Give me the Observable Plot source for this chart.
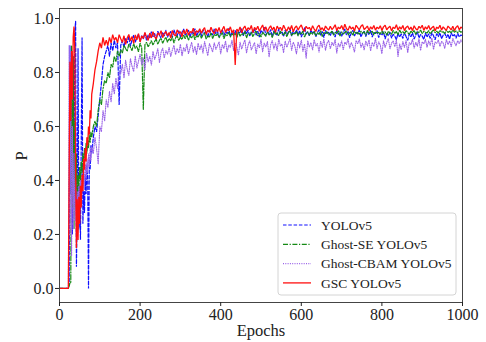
<!DOCTYPE html>
<html><head><meta charset="utf-8">
<script src="https://cdn.jsdelivr.net/npm/d3@7"></script>
<script src="https://cdn.jsdelivr.net/npm/@observablehq/plot@0.6"></script>
<style>
body{margin:0;background:#fff}
svg, svg text{font-family:'Liberation Serif' !important}
</style>
</head><body><div id="chart"></div>
<script>
const epochs = [0,5,10,15,20,22,24,26,28,30,32,34,36,38,40,42,44,46,48,50,52,54,56,58,60,62,64,66,68,70,72,74,76,78,80,84,88,92,96,100,104,108,112,116,120,124,128,132,136,140,144,148,
152,156,160,164,168,172,176,180,184,188,
192,196,200,204,208,212,216,220,224,228,
232,236,240,244,248,252,256,260,264,268,
272,276,280,284,288,292,296,300,304,308,
312,316,320,324,328,332,336,340,344,348,
352,356,360,364,368,372,376,380,384,388,
392,396,400,404,408,412,416,420,424,428,
432,436,440,444,448,452,456,460,464,468,
472,476,480,484,488,492,496,500,504,508,
512,516,520,524,528,532,536,540,544,548,
552,556,560,564,568,572,576,580,584,588,
592,596,600,604,608,612,616,620,624,628,
632,636,640,644,648,652,656,660,664,668,
672,676,680,684,688,692,696,700,704,708,
712,716,720,724,728,732,736,740,744,748,
752,756,760,764,768,772,776,780,784,788,
792,796,800,804,808,812,816,820,824,828,
832,836,840,844,848,852,856,860,864,868,
872,876,880,884,888,892,896,900,904,908,
912,916,920,924,928,932,936,940,944,948,
952,956,960,964,968,972,976,980,984,988,
992,996,1000];

const yolov5P = [0,0,0,0,0,0,0.02,0.9,0.35,0.72,0.2,0.86,0.42,0.95,0.99,0.08,0.3,0.89,0.22,0.38,0.18,0.55,0.93,0.24,0.36,0.28,0.42,0.35,0.46,0.4,0.0,0.48,0.44,0.53,0.5,0.56,0.6,0.58,0.64,0.7,0.76,0.83,0.86,0.88,0.9,0.86,0.91,0.88,0.92,0.89,0.91,0.68,
0.901,0.918,0.893,0.926,0.909,0.934,0.897,0.921,0.938,0.912,
0.929,0.942,0.915,0.936,0.924,0.947,0.919,0.939,0.928,0.951,
0.932,0.945,0.921,0.953,0.938,0.927,0.949,0.935,0.956,0.931,
0.944,0.952,0.929,0.958,0.941,0.936,0.955,0.932,0.949,0.961,
0.938,0.946,0.957,0.931,0.952,0.943,0.962,0.935,0.948,0.954,
0.933,0.958,0.944,0.951,0.929,0.956,0.947,0.938,0.961,0.942,
0.953,0.931,0.948,0.959,0.937,0.952,0.944,0.963,0.934,0.949,
0.941,0.956,0.932,0.951,0.946,0.962,0.936,0.955,0.943,0.958,
0.934,0.951,0.947,0.964,0.938,0.953,0.931,0.957,0.945,0.968,
0.937,0.952,0.943,0.959,0.931,0.955,0.946,0.938,0.961,0.944,
0.952,0.933,0.957,0.941,0.949,0.962,0.935,0.953,0.944,0.958,
0.939,0.955,0.931,0.948,0.966,0.942,0.951,0.936,0.957,0.945,
0.953,0.932,0.947,0.959,0.938,0.952,0.929,0.956,0.943,0.949,
0.936,0.954,0.945,0.931,0.957,0.941,0.951,0.934,0.948,0.961,
0.939,0.952,0.928,0.947,0.956,0.935,0.949,0.942,0.958,0.931,
0.946,0.953,0.933,0.951,0.939,0.957,0.931,0.948,0.944,0.955,
0.929,0.947,0.938,0.951,0.924,0.945,0.936,0.949,0.927,0.942,
0.935,0.921,0.946,0.931,0.943,0.926,0.948,0.933,0.919,0.944,
0.932,0.947,0.924,0.939,0.951,0.928,0.941,0.935,0.922,0.946,
0.931,0.943,0.926,0.948,0.936,0.921,0.944,0.933,0.947,0.925,
0.938,0.946,0.929,0.942,0.923,0.947,0.934,0.941,0.927,0.945,
0.932,0.939,0.936];

const ghostSEP = [0,0,0,0,0,0,0.01,0.02,0.02,0.9,0.3,0.86,0.22,0.62,0.3,0.5,0.34,0.42,0.36,0.45,0.4,0.47,0.43,0.5,0.46,0.52,0.48,0.54,0.5,0.55,0.52,0.57,0.54,0.58,0.56,0.6,0.62,0.6,0.66,0.7,0.68,0.74,0.77,0.76,0.8,0.78,0.83,0.82,0.86,0.84,0.88,0.86,
0.884,0.872,0.901,0.889,0.878,0.905,0.893,0.881,0.907,0.889,
0.898,0.876,0.909,0.891,0.662,0.903,0.912,0.895,0.906,0.918,
0.901,0.915,0.923,0.904,0.919,0.927,0.908,0.921,0.931,0.912,
0.926,0.917,0.933,0.909,0.928,0.936,0.918,0.931,0.922,0.938,
0.925,0.941,0.919,0.934,0.928,0.943,0.921,0.937,0.931,0.945,
0.927,0.939,0.946,0.924,0.936,0.931,0.947,0.926,0.941,0.935,
0.944,0.929,0.938,0.948,0.925,0.942,0.936,0.949,0.931,0.943,
0.938,0.946,0.929,0.951,0.934,0.944,0.939,0.952,0.928,0.945,
0.941,0.949,0.932,0.946,0.953,0.936,0.944,0.931,0.949,0.942,
0.934,0.951,0.939,0.945,0.929,0.952,0.941,0.947,0.936,0.953,
0.943,0.938,0.951,0.932,0.947,0.954,0.937,0.945,0.941,0.952,
0.935,0.948,0.943,0.953,0.931,0.946,0.951,0.938,0.949,0.942,
0.952,0.936,0.947,0.941,0.955,0.933,0.948,0.944,0.951,0.939,
0.946,0.953,0.938,0.949,0.944,0.956,0.935,0.951,0.942,0.948,
0.954,0.939,0.947,0.951,0.937,0.955,0.943,0.949,0.941,0.953,
0.945,0.951,0.938,0.956,0.944,0.948,0.953,0.939,0.951,0.946,
0.949,0.941,0.955,0.943,0.951,0.938,0.953,0.946,0.942,0.956,
0.944,0.952,0.939,0.957,0.946,0.951,0.943,0.955,0.948,0.941,
0.953,0.947,0.956,0.942,0.951,0.948,0.957,0.944,0.952,0.949,
0.946,0.955,0.943,0.951,0.958,0.947,0.953,0.945,0.956,0.949,
0.951,0.944,0.957,0.948,0.953,0.946,0.958,0.949,0.954,0.947,
0.955,0.949,0.952];

const ghostCBAMP = [0,0,0,0,0,0,0.9,0.2,0.85,0.12,0.6,0.22,0.5,0.25,0.4,0.2,0.36,0.28,0.38,0.3,0.4,0.33,0.42,0.36,0.44,0.38,0.46,0.4,0.48,0.43,0.5,0.45,0.52,0.47,0.53,0.5,0.56,0.52,0.46,0.6,0.58,0.66,0.62,0.7,0.67,0.73,0.69,0.76,0.72,0.78,0.74,0.8,
0.796,0.831,0.779,0.845,0.812,0.788,0.852,0.823,0.803,0.861,
0.816,0.842,0.868,0.827,0.855,0.809,0.872,0.838,0.861,0.826,
0.879,0.848,0.865,0.889,0.836,0.874,0.891,0.853,0.882,0.867,
0.894,0.859,0.883,0.901,0.866,0.889,0.872,0.905,0.861,0.893,
0.878,0.906,0.869,0.891,0.912,0.874,0.897,0.866,0.909,0.883,
0.903,0.871,0.915,0.888,0.862,0.907,0.893,0.876,0.911,0.885,
0.899,0.914,0.868,0.904,0.889,0.917,0.875,0.902,0.893,0.919,
0.881,0.908,0.896,0.864,0.913,0.887,0.905,0.921,0.872,0.901,
0.918,0.883,0.897,0.911,0.869,0.906,0.891,0.923,0.876,0.909,
0.894,0.915,0.857,0.903,0.919,0.886,0.911,0.879,0.924,0.898,
0.906,0.873,0.917,0.893,0.909,0.926,0.881,0.912,0.898,0.868,
0.914,0.891,0.921,0.877,0.906,0.853,0.918,0.894,0.911,0.883,
0.922,0.897,0.908,0.874,0.916,0.893,0.925,0.882,0.909,0.919,
0.887,0.912,0.899,0.923,0.871,0.908,0.894,0.918,0.884,0.913,
0.903,0.926,0.889,0.911,0.897,0.875,0.919,0.906,0.924,0.892,
0.909,0.883,0.917,0.898,0.921,0.879,0.912,0.896,0.927,0.888,
0.914,0.902,0.869,0.918,0.893,0.911,0.926,0.887,0.909,0.917,
0.895,0.921,0.858,0.906,0.884,0.915,0.892,0.919,0.873,0.911,
0.903,0.924,0.889,0.912,0.897,0.926,0.881,0.914,0.906,0.923,
0.893,0.917,0.901,0.928,0.885,0.913,0.908,0.921,0.896,0.915,
0.909,0.889,0.922,0.903,0.917,0.895,0.926,0.911,0.899,0.918,
0.906,0.921,0.912];

const gscP = [0,0,0,0,0,0,0.45,0.84,0.62,0.88,0.7,0.93,0.97,0.88,0.45,0.15,0.33,0.18,0.34,0.24,0.38,0.3,0.42,0.36,0.48,0.44,0.52,0.47,0.56,0.53,0.6,0.57,0.66,0.63,0.72,0.76,0.81,0.84,0.88,0.91,0.89,0.93,0.9,0.92,0.9,0.93,0.91,0.94,0.92,0.93,0.91,0.94,
0.925,0.912,0.936,0.904,0.928,0.941,0.917,0.933,0.908,0.939,
0.921,0.944,0.913,0.935,0.926,0.948,0.931,0.919,0.946,0.928,
0.951,0.933,0.924,0.947,0.938,0.955,0.929,0.944,0.952,0.936,
0.948,0.927,0.956,0.941,0.935,0.958,0.944,0.951,0.932,0.957,
0.943,0.961,0.938,0.952,0.947,0.964,0.936,0.955,0.949,0.962,
0.945,0.958,0.966,0.941,0.957,0.949,0.968,0.952,0.944,0.963,
0.951,0.967,0.946,0.959,0.971,0.948,0.962,0.955,0.969,0.947,
0.958,0.828,0.961,0.952,0.969,0.947,0.963,0.972,0.954,0.966,
0.959,0.974,0.948,0.967,0.958,0.971,0.953,0.965,0.976,0.956,
0.969,0.951,0.964,0.973,0.957,0.968,0.949,0.972,0.961,0.967,
0.955,0.975,0.962,0.953,0.969,0.958,0.974,0.951,0.966,0.972,
0.957,0.968,0.976,0.959,0.953,0.971,0.962,0.967,0.955,0.973,
0.961,0.952,0.969,0.975,0.958,0.966,0.954,0.972,0.963,0.957,
0.971,0.959,0.966,0.977,0.955,0.968,0.962,0.974,0.958,0.979,
0.963,0.956,0.972,0.961,0.968,0.954,0.975,0.966,0.958,0.971,
0.977,0.959,0.965,0.972,0.955,0.969,0.961,0.974,0.957,0.968,
0.962,0.973,0.956,0.969,0.975,0.958,0.966,0.971,0.954,0.968,
0.963,0.977,0.957,0.969,0.961,0.974,0.955,0.967,0.972,0.959,
0.968,0.955,0.973,0.962,0.957,0.971,0.964,0.975,0.956,0.969,
0.961,0.974,0.958,0.966,0.971,0.954,0.968,0.963,0.975,0.957,
0.969,0.962,0.956,0.972,0.965,0.958,0.971,0.955,0.967,0.973,
0.958,0.968,0.964];

const seriesNames = ["YOLOv5", "Ghost-SE YOLOv5", "Ghost-CBAM YOLOv5", "GSC YOLOv5"];
const seriesValues = [yolov5P, ghostSEP, ghostCBAMP, gscP];
const xTicks = [0, 200, 400, 600, 800, 1000];
const yTicks = [0, 0.2, 0.4, 0.6, 0.8, 1.0];

const styles = [
  {stroke: "#1010ff", dash: "3.5,1.8", width: 1.2},
  {stroke: "#158a15", dash: "5,1.6,1.2,1.6", width: 1.2},
  {stroke: "#9a63e8", dash: "1,1.3", width: 1.1},
  {stroke: "#ff1010", dash: null, width: 1.3}
];

const lines = seriesValues.map((vals, i) => {
  const data = epochs.map((e, j) => ({epoch: e, p: vals[j]})).filter(d => d.p !== undefined);
  return Plot.line(data, {x: "epoch", y: "p", stroke: styles[i].stroke, strokeWidth: styles[i].width,
    strokeDasharray: styles[i].dash, strokeLinejoin: "miter", curve: "linear"});
});

const font = "Liberation Serif";
const plot = Plot.plot({
  width: 486, height: 342,
  marginLeft: 59, marginRight: 24, marginTop: 8, marginBottom: 40,
  style: {fontFamily: "'Liberation Serif'", fontSize: "16px", color: "#222", background: "#fff"},
  x: {domain: [0, 1000], label: null},
  y: {domain: [-0.052, 1.037], label: null},
  marks: [
    ...lines,
    Plot.frame({stroke: "#444", strokeWidth: 1}),
    Plot.axisX({ticks: xTicks, tickSize: 4, tickPadding: 2, fontSize: 16, tickFormat: d => String(d), label: null}),
    Plot.axisY({ticks: yTicks, tickSize: 4, tickPadding: 2, fontSize: 16, tickFormat: d3.format(".1f"), label: null}),
    Plot.text(["Epochs"], {frameAnchor: "bottom", dy: 28, text: d => d, fontSize: 16.5, fill: "#222", lineAnchor: "middle"}),
    Plot.text(["P"], {frameAnchor: "left", dx: -38, dy: 5, rotate: -90, text: d => d, fontSize: 16.5, fill: "#222", lineAnchor: "middle"})
  ]
});
document.getElementById("chart").appendChild(plot);

// legend
const svg = d3.select(plot);
const g = svg.append("g").attr("font-size", 13.5).attr("text-anchor", "start");
g.append("rect").attr("x", 278).attr("y", 213).attr("width", 178).attr("height", 82).attr("rx", 3)
  .attr("fill", "#fff").attr("fill-opacity", 0.85).attr("stroke", "#d4d4d4");
seriesNames.forEach((name, i) => {
  const y = 225 + i * 19.3;
  g.append("line").attr("x1", 283).attr("x2", 311).attr("y1", y).attr("y2", y)
    .attr("stroke", styles[i].stroke).attr("stroke-width", styles[i].width)
    .attr("stroke-dasharray", styles[i].dash);
  g.append("text").attr("x", 321).attr("y", y).attr("dy", "0.35em").attr("text-anchor", "start")
    .attr("fill", "#222").text(name);
});
svg.selectAll("text").style("font-family", "'Liberation Serif'");
</script>
</body></html>
